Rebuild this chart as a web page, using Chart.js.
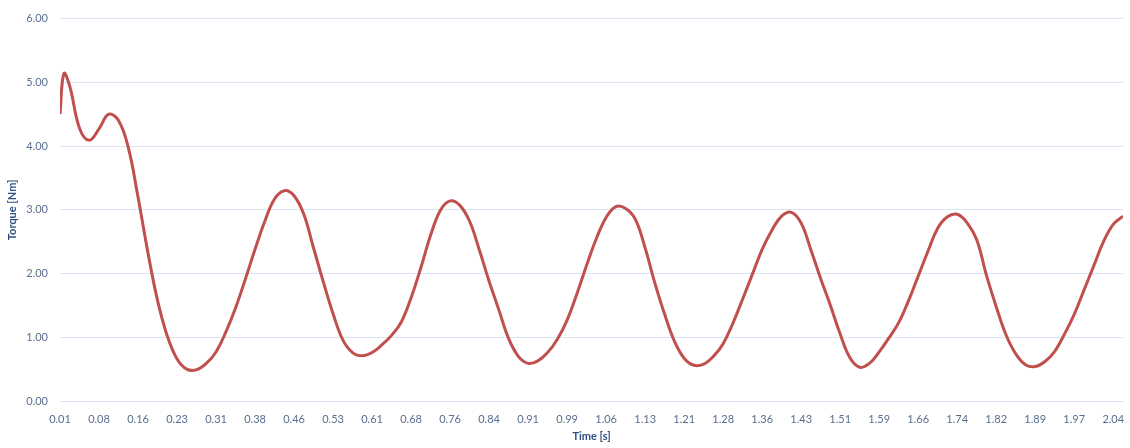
<!DOCTYPE html>
<html>
<head>
<meta charset="utf-8">
<title>Torque vs time</title>
<script src="https://cdn.jsdelivr.net/npm/chart.js@4.4.0/dist/chart.umd.min.js"></script>
<style>
  html, body { margin: 0; padding: 0; background: #fff; }
  #wrap { width: 1130px; height: 448px; position: relative; }
</style>
</head>
<body>
<div id="wrap"><canvas id="torque"></canvas></div>
<script>
// tick labels shown on the time axis (one every 4 samples)
var timeTicks = ['0.01', '0.08', '0.16', '0.23', '0.31', '0.38', '0.46', '0.53', '0.61', '0.68',
  '0.76', '0.84', '0.91', '0.99', '1.06', '1.13', '1.21', '1.28', '1.36', '1.43',
  '1.51', '1.59', '1.66', '1.74', '1.82', '1.89', '1.97', '2.04'];
var samplesPerTick = 4;

// torque [Nm], one value per sample
var torque = [
  4.50, 4.94, 4.28, 4.09, 4.27, 4.50, 4.40, 3.98, 3.20, 2.34,
  1.58, 1.02, 0.66, 0.50, 0.49, 0.59, 0.77, 1.08, 1.46, 1.91,
  2.38, 2.82, 3.17, 3.30, 3.22, 2.93, 2.40, 1.87, 1.37, 0.96,
  0.76, 0.71, 0.76, 0.88, 1.03, 1.24, 1.62, 2.09, 2.60, 2.99,
  3.14, 3.07, 2.82, 2.37, 1.88, 1.43, 0.98, 0.70, 0.59, 0.63,
  0.76, 0.97, 1.27, 1.68, 2.13, 2.55, 2.88, 3.05, 3.02, 2.85,
  2.40, 1.85, 1.36, 0.94, 0.67, 0.56, 0.58, 0.70, 0.90, 1.22,
  1.60, 1.99, 2.38, 2.68, 2.90, 2.96, 2.79, 2.37, 1.92, 1.50,
  1.05, 0.68, 0.53, 0.59, 0.77, 0.99, 1.23, 1.57, 1.96, 2.35,
  2.71, 2.89, 2.93, 2.80, 2.53, 1.97, 1.48, 1.04, 0.74, 0.57,
  0.54, 0.62, 0.78, 1.05, 1.36, 1.74, 2.12, 2.50, 2.77, 2.90
];

// the sharp start-up spike sits between the first two samples
var spikeAt = 0.4;
var spikeTorque = 5.14;

var points = torque.map(function(v, i) { return { x: i, y: v }; });
points.splice(1, 0, { x: spikeAt, y: spikeTorque });

var tickColor = '#5a6e90';
var titleColor = '#2f4f80';
var gridColor = '#d9e5f3';

var ctx = document.getElementById('torque');

new Chart(ctx, {
  type: 'line',
  data: {
    datasets: [{
      label: 'Torque',
      data: points,
      borderColor: '#c0504d',
      borderWidth: 3,
      pointRadius: 0,
      tension: 0.4,
      fill: false
    }]
  },
  options: {
    responsive: true,
    maintainAspectRatio: false,
    animation: false,
    parsing: false,
    layout: {
      padding: { top: 15, right: 7, bottom: 0, left: 0 }
    },
    plugins: {
      legend: { display: false },
      tooltip: { enabled: false }
    },
    scales: {
      x: {
        type: 'linear',
        min: 0,
        max: torque.length - 1,
        grid: { display: false },
        border: { display: true, color: gridColor, width: 1 },
        afterBuildTicks: function(scale) {
          scale.ticks = timeTicks.map(function(t, k) { return { value: k * samplesPerTick }; });
        },
        ticks: {
          autoSkip: false,
          maxRotation: 0,
          padding: 4,
          color: tickColor,
          font: { family: 'Lato', size: 11 },
          callback: function(value) { return timeTicks[Math.round(value / samplesPerTick)]; }
        },
        title: {
          display: true,
          text: 'Time [s]',
          color: titleColor,
          font: { family: 'Lato', size: 11, weight: 'bold' },
          padding: { top: 0, bottom: 5 }
        },
        afterFit: function(scale) { scale.height = 47; }
      },
      y: {
        min: 0,
        max: 6,
        grid: { color: gridColor, lineWidth: 1, drawTicks: false },
        border: { display: false },
        ticks: {
          stepSize: 1,
          padding: 12,
          color: tickColor,
          font: { family: 'Lato', size: 11 },
          callback: function(v) { return v.toFixed(2); }
        },
        title: {
          display: true,
          text: 'Torque [Nm]',
          color: titleColor,
          font: { family: 'Lato', size: 11, weight: 'bold' },
          padding: { top: 6, bottom: 0 }
        },
        afterFit: function(scale) { scale.width = 60; }
      }
    }
  }
});
</script>
</body>
</html>
